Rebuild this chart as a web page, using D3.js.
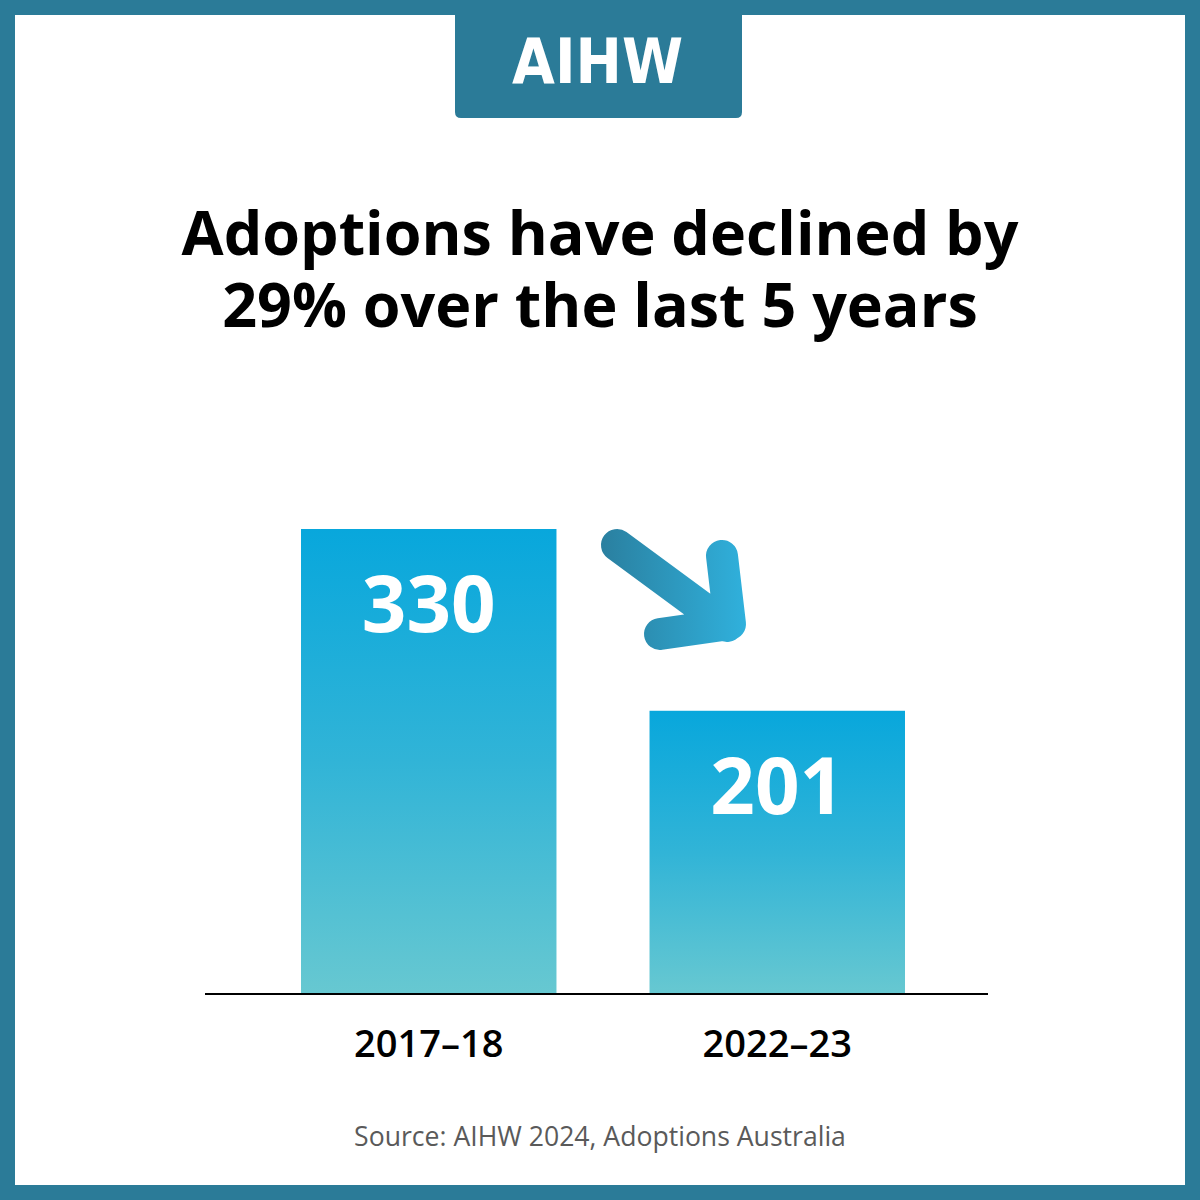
<!DOCTYPE html>
<html>
<head>
<meta charset="utf-8">
<script src="https://cdn.jsdelivr.net/npm/d3@7"></script>
<style>
  html, body { margin: 0; padding: 0; background: #fff; }
  svg { display: block; font-family: 'Open Sans', 'Noto Sans', sans-serif; }
</style>
</head>
<body>
<div id="chart"></div>
<script>
// data
const categories = ['2017–18', '2022–23'];
const adoptions = [330, 201];
const titleLines = ['Adoptions have declined by', '29% over the last 5 years'];
const sourceText = 'Source: AIHW 2024, Adoptions Australia';

const W = 1200, H = 1200;
const teal = '#2b7b98';

const svg = d3.select('#chart').append('svg')
  .attr('width', W)
  .attr('height', H);

const defs = svg.append('defs');
const barGrad = defs.append('linearGradient')
  .attr('id', 'barGrad')
  .attr('x1', 0).attr('y1', 0).attr('x2', 0).attr('y2', 1);
barGrad.append('stop').attr('offset', '0%').attr('stop-color', '#08a7dc');
barGrad.append('stop').attr('offset', '50%').attr('stop-color', '#31b4d7');
barGrad.append('stop').attr('offset', '100%').attr('stop-color', '#67c8d1');

const arrowGrad = defs.append('linearGradient')
  .attr('id', 'arrowGrad')
  .attr('gradientUnits', 'userSpaceOnUse')
  .attr('x1', 600).attr('y1', 0).attr('x2', 750).attr('y2', 0);
arrowGrad.append('stop').attr('offset', '0%').attr('stop-color', '#2a7f9f');
arrowGrad.append('stop').attr('offset', '100%').attr('stop-color', '#30b2de');

// frame
svg.append('rect')
  .attr('x', 7.5).attr('y', 7.5)
  .attr('width', W - 15).attr('height', H - 15)
  .attr('fill', 'none')
  .attr('stroke', teal)
  .attr('stroke-width', 15);

// logo tab
svg.append('path')
  .attr('d', 'M455,0 L742,0 L742,112 Q742,118 736,118 L461,118 Q455,118 455,112 Z')
  .attr('fill', teal);
svg.append('text')
  .attr('x', 597.5).attr('y', 83)
  .attr('text-anchor', 'middle')
  .attr('font-family', 'DejaVu Sans')
  .attr('font-weight', 'bold')
  .attr('font-size', 62)
  .attr('textLength', 171)
  .attr('lengthAdjust', 'spacingAndGlyphs')
  .attr('fill', '#fff')
  .text('AIHW');

// title, one text per line
svg.selectAll('text.title')
  .data(titleLines)
  .enter()
  .append('text')
    .attr('class', 'title')
    .attr('x', 600)
    .attr('y', (d, i) => 255 + i * 72)
    .attr('text-anchor', 'middle')
    .attr('font-weight', 'bold')
    .attr('font-size', 61)
    .attr('fill', '#000')
    .text(d => d);

// scales
const x = d3.scaleBand()
  .domain(categories)
  .range([301, 905])
  .paddingInner(0.267)
  .paddingOuter(0);

const y = d3.scaleLinear()
  .domain([0, 330])
  .range([994, 529]);

// bars
svg.selectAll('rect.bar')
  .data(adoptions)
  .enter()
  .append('rect')
    .attr('class', 'bar')
    .attr('x', (d, i) => x(categories[i]))
    .attr('y', d => y(d))
    .attr('width', x.bandwidth())
    .attr('height', d => y(0) - y(d))
    .attr('fill', 'url(#barGrad)');

svg.selectAll('text.value')
  .data(adoptions)
  .enter()
  .append('text')
    .attr('class', 'value')
    .attr('x', (d, i) => x(categories[i]) + x.bandwidth() / 2)
    .attr('y', d => y(d) + 103)
    .attr('text-anchor', 'middle')
    .attr('font-weight', 'bold')
    .attr('font-size', 78)
    .attr('fill', '#fff')
    .text(d => d);

// axis
const xAxis = d3.axisBottom(x).tickSize(0).tickPadding(36);
const axisG = svg.append('g')
  .attr('transform', 'translate(0,' + y(0) + ')')
  .call(xAxis);
axisG.select('.domain').remove();
axisG.selectAll('text')
  .attr('font-family', "'Open Sans', sans-serif")
  .attr('font-size', 38)
  .attr('font-weight', 600)
  .attr('fill', '#000');
axisG.append('line')
  .attr('x1', 205).attr('x2', 988)
  .attr('y1', 0).attr('y2', 0)
  .attr('stroke', '#000')
  .attr('stroke-width', 2);

// arrow
svg.append('path')
  .attr('d', 'M617,545 L727,626 M722,556 L730,624 L660,634')
  .attr('fill', 'none')
  .attr('stroke', 'url(#arrowGrad)')
  .attr('stroke-width', 32)
  .attr('stroke-linecap', 'round')
  .attr('stroke-linejoin', 'round');

// source
svg.append('text')
  .attr('x', 600).attr('y', 1146)
  .attr('text-anchor', 'middle')
  .attr('font-size', 26.6)
  .attr('fill', '#5a5a5a')
  .text(sourceText);
</script>
</body>
</html>
